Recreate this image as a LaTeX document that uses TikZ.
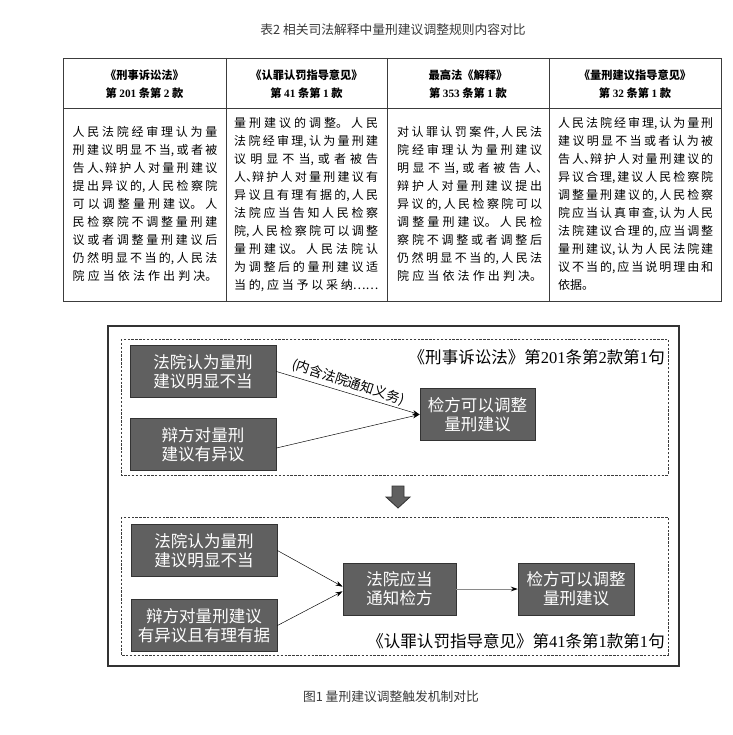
\documentclass[tikz,border=0pt]{standalone}
\usepackage{fontspec}
\setmainfont{Liberation Serif}
\newfontfamily\cjk{Noto Sans CJK SC}
\newfontfamily\serifnum{Liberation Serif}
\usepackage{xcolor}
\usetikzlibrary{positioning,calc,arrows.meta}

\definecolor{boxfill}{HTML}{606060}
\definecolor{boxedge}{HTML}{333333}
\definecolor{linegray}{HTML}{3C3C3C}
\definecolor{capgray}{HTML}{3A3A3A}
\definecolor{arrowgray}{HTML}{8A8A8A}

\XeTeXlinebreaklocale "zh"
\XeTeXlinebreakskip=0pt plus 6pt
\newcommand\dun{\makebox[0.5em][l]{、}}

\begin{document}
\begin{tikzpicture}[x=0.03cm, y=-0.03cm,
  node distance=2.19cm,
  >={Stealth[length=6pt,width=4pt]},
  cell/.style={anchor=base west, inner sep=0pt, text width=#1, align=justify,
    font=\cjk\fontsize{10.24pt}{15.36pt}\selectfont},
  headcell/.style={inner sep=0pt, align=center,
    font=\cjk\bfseries\fontsize{9.6pt}{15.4pt}\selectfont},
  box/.style={rectangle, draw=boxedge, fill=boxfill, text=white, line width=0.7pt,
    minimum width=#1, minimum height=1.56cm, inner sep=0pt, align=center,
    font=\cjk\fontsize{14.1pt}{16.2pt}\selectfont},
  lbl/.style={inner sep=0pt, font=\cjk\fontsize{14.1pt}{16.2pt}\selectfont},
  captext/.style={inner sep=0pt, text=capgray, font=\cjk\fontsize{10.9pt}{13pt}\selectfont},
  dashbox/.style={draw=linegray, line width=0.7pt, dash pattern=on 2pt off 1.3pt}]
\fill[white] (0,0) rectangle (732,735);
\useasboundingbox (0,0) rectangle (732,735);

% table
\node[captext] (tabtitle) at (393,30) {表2 相关司法解释中量刑建议调整规则内容对比};
\draw[linegray, line width=0.8pt] (63,58) rectangle (721,301);
\draw[linegray, line width=0.8pt] (63,108) -- (721,108);
\foreach \x in {226,387,549}
  \draw[linegray, line width=0.6pt] (\x,58) -- (\x,301);

\node[headcell] (h1) at (144.5,84) {《刑事诉讼法》\\第 {\serifnum 201} 条第 {\serifnum 2} 款};
\node[headcell] (h2) at (306.5,84) {《认罪认罚指导意见》\\第 {\serifnum 41} 条第 {\serifnum 1} 款};
\node[headcell] (h3) at (468,84) {最高法《解释》\\第 {\serifnum 353} 条第 {\serifnum 1} 款};
\node[headcell] (h4) at (635,84) {《量刑建议指导意见》\\第 {\serifnum 32} 条第 {\serifnum 1} 款};

\node[cell=4.34cm] (c1) at (72.5,136.6) {\parfillskip=0pt 人民法院经审理认为量\linebreak
刑建议明显不当,或者被\linebreak
告人\dun 辩护人对量刑建议\linebreak
提出异议的,人民检察院\linebreak
可以调整量刑建议。人\linebreak
民检察院不调整量刑建\linebreak
议或者调整量刑建议后\linebreak
仍然明显不当的,人民法\linebreak
院应当依法作出判决。\par};
\node[cell=4.32cm] (c2) at (234,127.6) {\parfillskip=0pt 量刑建议的调整。人民\linebreak
法院经审理,认为量刑建\linebreak
议明显不当,或者被告\linebreak
人\dun 辩护人对量刑建议有\linebreak
异议且有理有据的,人民\linebreak
法院应当告知人民检察\linebreak
院,人民检察院可以调整\linebreak
量刑建议。人民法院认\linebreak
为调整后的量刑建议适\linebreak
当的,应当予以采纳……\par};
\node[cell=4.35cm] (c3) at (397,136.6) {\parfillskip=0pt 对认罪认罚案件,人民法\linebreak
院经审理认为量刑建议\linebreak
明显不当,或者被告人\dun\linebreak
辩护人对量刑建议提出\linebreak
异议的,人民检察院可以\linebreak
调整量刑建议。人民检\linebreak
察院不调整或者调整后\linebreak
仍然明显不当的,人民法\linebreak
院应当依法作出判决。\par};
\node[cell=4.65cm] (c4) at (558,127.6) {人民法院经审理,认为量刑\linebreak
建议明显不当或者认为被\linebreak
告人\dun 辩护人对量刑建议的\linebreak
异议合理,建议人民检察院\linebreak
调整量刑建议的,人民检察\linebreak
院应当认真审查,认为人民\linebreak
法院建议合理的,应当调整\linebreak
量刑建议,认为人民法院建\linebreak
议不当的,应当说明理由和\linebreak
依据。};

% figure
\draw[boxedge, line width=1pt] (108,326) rectangle (679,666);
\draw[dashbox] (121,339) rectangle (668,475);
\draw[dashbox] (121,517) rectangle (668,655);

\node[box=4.38cm] (u1) at (203,371.5) {法院认为量刑\\建议明显不当};
\node[box=4.38cm, below of=u1] (u2) {辩方对量刑\\建议有异议};
\node[box=3.45cm] (u3) at (477.5,414.5) {检方可以调整\\量刑建议};
\node[lbl, anchor=east] (law1) at (665,357) {《刑事诉讼法》第{\serifnum 201}条第{\serifnum 2}款第{\serifnum 1}句};
\draw[->] (u1.east) -- node[pos=0.48, anchor=south, rotate=-18, inner sep=2.5pt,
  font=\cjk\fontsize{11.5pt}{13pt}\selectfont] (duty) {(内含法院通知义务)} (u3.west);
\draw[->] ([yshift=-3pt]u2.east) -- (u3.west);

\draw[boxedge, fill=boxfill, line width=0.7pt] (392,486) -- (404,486) -- (404,497)
  -- (410,497) -- (398,508) -- (386,497) -- (392,497) -- cycle;

\node[box=4.38cm] (l1) at (204,550.5) {法院认为量刑\\建议明显不当};
\node[box=4.38cm, below of=l1, node distance=2.25cm] (l2) {辩方对量刑建议\\有异议且有理有据};
\node[box=3.39cm] (l3) at (399.5,589) {法院应当\\通知检方};
\node[box=3.48cm, right of=l3, node distance=5.3cm] (l4) {检方可以调整\\量刑建议};
\node[lbl, anchor=east] (law2) at (665,641) {《认罪认罚指导意见》第{\serifnum 41}条第{\serifnum 1}款第{\serifnum 1}句};
\draw[->] (l1.east) -- ([yshift=2pt]l3.west);
\draw[->] (l2.east) -- ([yshift=-2pt]l3.west);
\draw[arrowgray, line width=0.8pt, -{Stealth[length=6pt,width=4pt,color=black]}] (l3) -- (l4);

\node[captext] (figcap) at (391,697) {图1 量刑建议调整触发机制对比};
\end{tikzpicture}
\end{document}
